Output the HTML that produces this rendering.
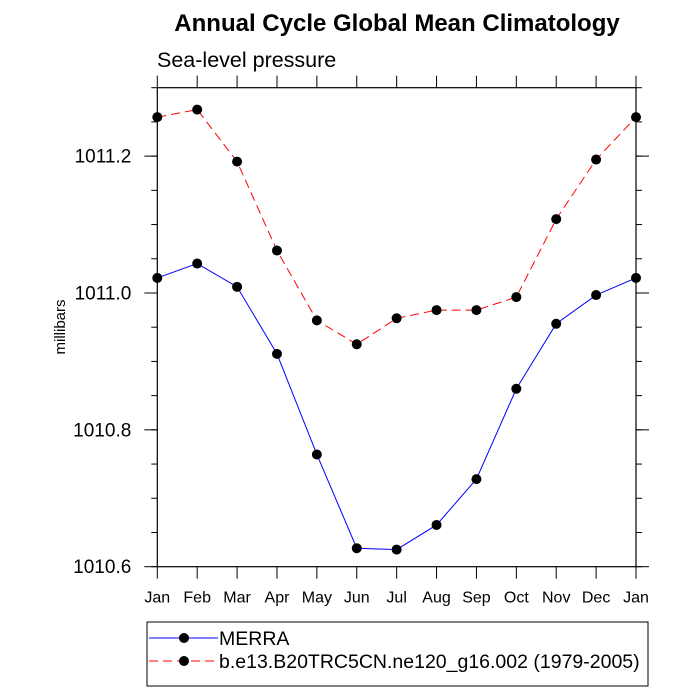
<!DOCTYPE html>
<html><head><meta charset="utf-8"><style>
body{margin:0;background:#fff}
svg{display:block;font-family:"Liberation Sans",sans-serif}
</style></head><body>
<svg id="chart" width="700" height="700" xmlns="http://www.w3.org/2000/svg">
<text x="397" y="31" text-anchor="middle" font-size="24" font-weight="bold">Annual Cycle Global Mean Climatology</text>
<text x="157" y="67" font-size="21.5">Sea-level pressure</text>
<text transform="translate(65,327) rotate(-90)" text-anchor="middle" font-size="15">millibars</text>
<g id="axes"></g>
<g id="series"></g>
<g>
<rect x="147" y="622" width="501" height="64" fill="none" stroke="#000" stroke-width="1"/>
<line x1="149" y1="638" x2="218" y2="638" stroke="#00f" stroke-width="1"/>
<circle cx="184" cy="638" r="5" fill="#000"/>
<text x="219" y="645" font-size="19.5">MERRA</text>
<line x1="149" y1="661" x2="218" y2="661" stroke="#f00" stroke-width="1" stroke-dasharray="9,5"/>
<circle cx="184" cy="661" r="5" fill="#000"/>
<text x="219" y="668" font-size="19.5">b.e13.B20TRC5CN.ne120_g16.002 (1979-2005)</text>
</g>
</svg>
<script>
const months=["Jan","Feb","Mar","Apr","May","Jun","Jul","Aug","Sep","Oct","Nov","Dec","Jan"];
const merra=[1011.022,1011.043,1011.009,1010.911,1010.764,1010.627,1010.625,1010.661,1010.728,1010.860,1010.955,1010.997,1011.022];
const model=[1011.257,1011.268,1011.192,1011.062,1010.960,1010.925,1010.963,1010.975,1010.975,1010.994,1011.108,1011.195,1011.257];
const yTicks=[1010.6,1010.8,1011.0,1011.2];
const yTickLabels=["1010.6","1010.8","1011.0","1011.2"];
const L=157.3,R=636,T=87.7,B=566.7,YMIN=1010.6,YMAX=1011.3;
const NS="http://www.w3.org/2000/svg";
function xs(i){return L+(R-L)*i/(months.length-1);}
function ys(v){return B-(v-YMIN)/(YMAX-YMIN)*(B-T);}
function mk(tag,attrs,parent){const e=document.createElementNS(NS,tag);for(const k in attrs)e.setAttribute(k,attrs[k]);parent.appendChild(e);return e;}
const ax=document.getElementById('axes');
const frame=mk('rect',{x:L,y:T,width:R-L,height:B-T,fill:'none',stroke:'#000','stroke-width':1.2},ax);


months.forEach((m,i)=>{
  const x=xs(i);
  mk('line',{x1:x,y1:B,x2:x,y2:B+12,stroke:'#000'},ax);
  mk('line',{x1:x,y1:T,x2:x,y2:T-12,stroke:'#000'},ax);
  const t=mk('text',{x:x,y:B+36,'text-anchor':'middle','font-size':16},ax);
  t.textContent=m;
  
  
});
for(let v=YMIN;v<=YMAX+1e-9;v+=0.05){
  const y=ys(v);
  mk('line',{x1:L,y1:y,x2:L-6,y2:y,stroke:'#000'},ax);
  mk('line',{x1:R,y1:y,x2:R+6,y2:y,stroke:'#000'},ax);
}
yTicks.forEach((v,i)=>{
  const y=ys(v);
  mk('line',{x1:L,y1:y,x2:L-13,y2:y,stroke:'#000'},ax);
  mk('line',{x1:R,y1:y,x2:R+13,y2:y,stroke:'#000'},ax);
  const t=mk('text',{x:L-26,y:y+6.5,'text-anchor':'end','font-size':19},ax);
  t.textContent=yTickLabels[i];
  
  
});
const sg=document.getElementById('series');
function drawSeries(vals,color,dash,name){
  const pts=vals.map((v,i)=>xs(i)+','+ys(v)).join(' ');
  const pl=mk('polyline',{points:pts,fill:'none',stroke:color,'stroke-width':1,'stroke-dasharray':dash},sg);
  
  
  vals.forEach((v,i)=>{
    const c=mk('circle',{cx:xs(i),cy:ys(v),r:5,fill:'#000'},sg);
    
    
  });
}
drawSeries(model,'#f00','9,5','model');
drawSeries(merra,'#00f','none','merra');
</script>
</body></html>
